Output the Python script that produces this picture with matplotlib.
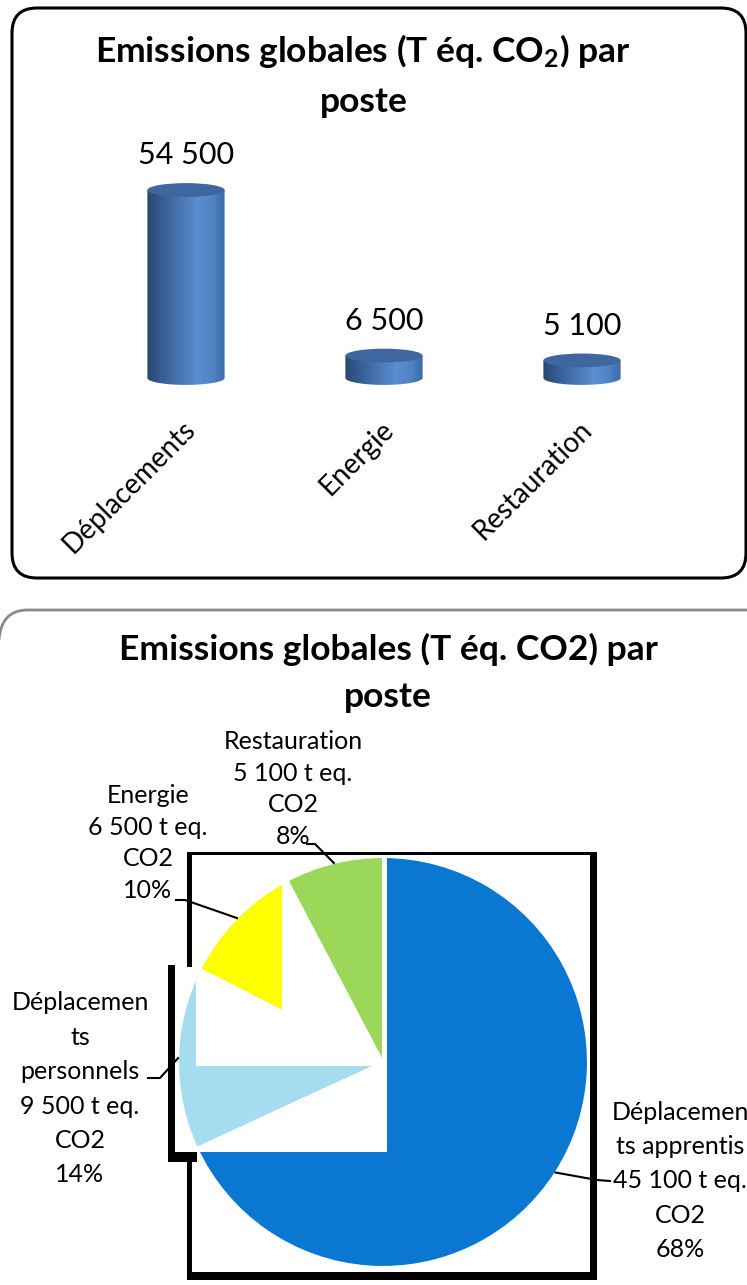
import numpy as np
import matplotlib
matplotlib.use("Agg")
import matplotlib.pyplot as plt
from matplotlib.patches import FancyBboxPatch, Rectangle, Ellipse, PathPatch
from matplotlib.path import Path
from matplotlib.lines import Line2D
from matplotlib.colors import LinearSegmentedColormap

plt.rcParams['font.family'] = ['Lato', 'DejaVu Sans']
plt.rcParams['mathtext.fontset'] = 'custom'
plt.rcParams['mathtext.rm'] = 'Lato:bold'
plt.rcParams['mathtext.it'] = 'Lato:bold'

# emissions par poste (barres)
postes = ['Déplacements', 'Energie', 'Restauration']
emissions = [54500, 6500, 5100]
bar_labels = ['54 500', '6 500', '5 100']

# emissions par poste (camembert)
pie_postes = ['Déplacemen\nts apprentis', 'Déplacemen\nts\npersonnels', 'Energie', 'Restauration']
pie_values = [45100, 9500, 6500, 5100]
pie_value_labels = ['45 100', '9 500', '6 500', '5 100']
pie_colors = ['#0a78d2', '#a6dcef', '#ffff00', '#9bd85a']

W, H = 747, 1285
fig = plt.figure(figsize=(W / 100, H / 100), dpi=100)
inch_tr = fig.dpi_scale_trans


def to_in(x, y):
    # pixel (from top-left) -> inches (from bottom-left)
    return x / 100, (H - y) / 100


def add_axes_px(left, top, width, height):
    return fig.add_axes([left / W, 1 - (top + height) / H, width / W, height / H])


# cadres arrondis
x0, y0 = to_in(12, 578)
fig.add_artist(FancyBboxPatch((x0, y0), 7.34, 5.70, boxstyle="round,pad=0,rounding_size=0.25",
                              transform=inch_tr, fill=False, ec='black', lw=2.2))
corner = Path([to_in(-1, 640), to_in(1, 611), to_in(26, 610), to_in(760, 610)],
              [Path.MOVETO, Path.CURVE3, Path.CURVE3, Path.LINETO])
fig.add_artist(PathPatch(corner, transform=inch_tr, fill=False, ec='#8a8a8a', lw=2.0))

# ---- histogramme cylindres ----
ppu = 188 / 54500  # pixels par tonne
ymin, ymax = -3000, 60000
ax = add_axes_px(87, 378 - ymax * ppu, 594, (ymax - ymin) * ppu)
ax.set_xlim(-0.5, 2.5)
ax.axis('off')

bw = 0.39
eh = 4000
cyl = LinearSegmentedColormap.from_list('cyl', [(0, '#27466f'), (0.15, '#34598e'), (0.65, '#5a8ed0'),
                                               (0.85, '#4f83c4'), (1, '#3b6aa8')])
grad = np.linspace(0, 1, 256).reshape(1, -1)
xs = np.arange(len(postes))
bars = ax.bar(xs, emissions, width=bw, color='none', edgecolor='none')
for rect, val, lbl in zip(bars, emissions, bar_labels):
    bx0 = rect.get_x()
    bx1 = bx0 + rect.get_width()
    xc = (bx0 + bx1) / 2
    t = np.linspace(0, np.pi, 60)
    verts = list(zip(xc - (bw / 2) * np.cos(t), -(eh / 2) * np.sin(t)))
    verts += [(bx1, val), (bx0, val), verts[0]]
    body = PathPatch(Path(verts, closed=True), fc='none', ec='none')
    ax.add_patch(body)
    im = ax.imshow(grad, extent=(bx0, bx1, -eh / 2, val), aspect='auto', cmap=cyl, zorder=2)
    im.set_clip_path(body)
    ax.add_patch(Ellipse((xc, val), bw, eh, fc='#3f679f', ec='none', zorder=3))
    ax.annotate(lbl, (xc, val), xytext=(0, 25), textcoords='offset points',
                ha='center', va='center', fontsize=22)

for i, name in enumerate(postes):
    ax.annotate(name, (i, 0), xytext=(4, -34), textcoords='offset points', rotation=45,
                ha='right', va='center', rotation_mode='anchor', fontsize=20, annotation_clip=False)
ax.set_xlim(-0.5, 2.5)
ax.set_ylim(ymin, ymax)

fig.text(363 / W, 1 - 62 / H, "Emissions globales (T éq. CO$_2$) par", ha='center', va='baseline',
         fontsize=25.5, fontweight='bold')
fig.text(364 / W, 1 - 112 / H, "poste", ha='center', va='baseline', fontsize=25.5, fontweight='bold')

# ---- camembert ----
fig.text(388 / W, 1 - 660 / H, "Emissions globales (T éq. CO2) par", ha='center', va='baseline',
         fontsize=25.5, fontweight='bold')
fig.text(388 / W, 1 - 707 / H, "poste", ha='center', va='baseline', fontsize=25.5, fontweight='bold')

ax2 = add_axes_px(178, 857, 410, 410)
wedges, _ = ax2.pie(pie_values, colors=pie_colors, startangle=90, counterclock=False,
                    wedgeprops=dict(edgecolor='white', linewidth=1.5))
ax2.set_xlim(-1, 1)
ax2.set_ylim(-1, 1)
ax2.axis('off')
for w, z in zip(wedges, [1, 3, 5, 7]):
    w.set_zorder(z)
    w.set_clip_on(False)


def block_px(xa, ya, xb, yb, color, z):
    bx, by = to_in(xa, yb)
    ax2.add_patch(Rectangle((bx, by), (xb - xa) / 100, (yb - ya) / 100, transform=inch_tr,
                            fc=color, ec='none', zorder=z, clip_on=False))


# blocs blancs et traits noirs du cadre
block_px(197, 1066, 387, 1152, 'white', 2)
block_px(196, 967, 387, 1066, 'white', 4)
block_px(282, 855, 387, 1066, 'white', 6)
block_px(187, 852, 597, 855, 'black', 0.5)
block_px(187, 852, 192, 967, 'black', 0.5)
block_px(187, 1152, 192, 1280, 'black', 0.5)
block_px(168, 965, 175, 1162, 'black', 0.5)
block_px(168, 1152, 197, 1162, 'black', 0.5)
block_px(590, 852, 597, 1280, 'black', 0.5)
block_px(187, 1272, 597, 1280, 'black', 0.5)

# etiquettes et lignes de rappel
total = sum(pie_values)
label_pos = [(680, 1181), (80, 1089), (148, 843), (293, 789)]
spacing = [1.6, 1.6, 1.45, 1.45]
elbows = [((597, 1180), (610, 1181)), ((160, 1078), (148, 1078)),
          ((185, 900), (176, 900)), ((315, 844), (307, 844))]
for w, name, vlab, val, (lx, ly), ls, (el, end) in zip(wedges, pie_postes, pie_value_labels, pie_values,
                                                      label_pos, spacing, elbows):
    pct = round(val / total * 100)
    fig.text(lx / W, 1 - ly / H, f"{name}\n{vlab} t eq.\nCO2\n{pct}%", ha='center', va='center',
             multialignment='center', fontsize=18, linespacing=ls)
    ang = np.deg2rad((w.theta1 + w.theta2) / 2)
    dx, dy = ax2.transData.transform((np.cos(ang), np.sin(ang)))
    xs_l = [dx / 100, el[0] / 100, end[0] / 100]
    ys_l = [dy / 100, (H - el[1]) / 100, (H - end[1]) / 100]
    fig.add_artist(Line2D(xs_l, ys_l, transform=inch_tr, color='black', lw=1.5))

fig.savefig('out.png', dpi=100)
